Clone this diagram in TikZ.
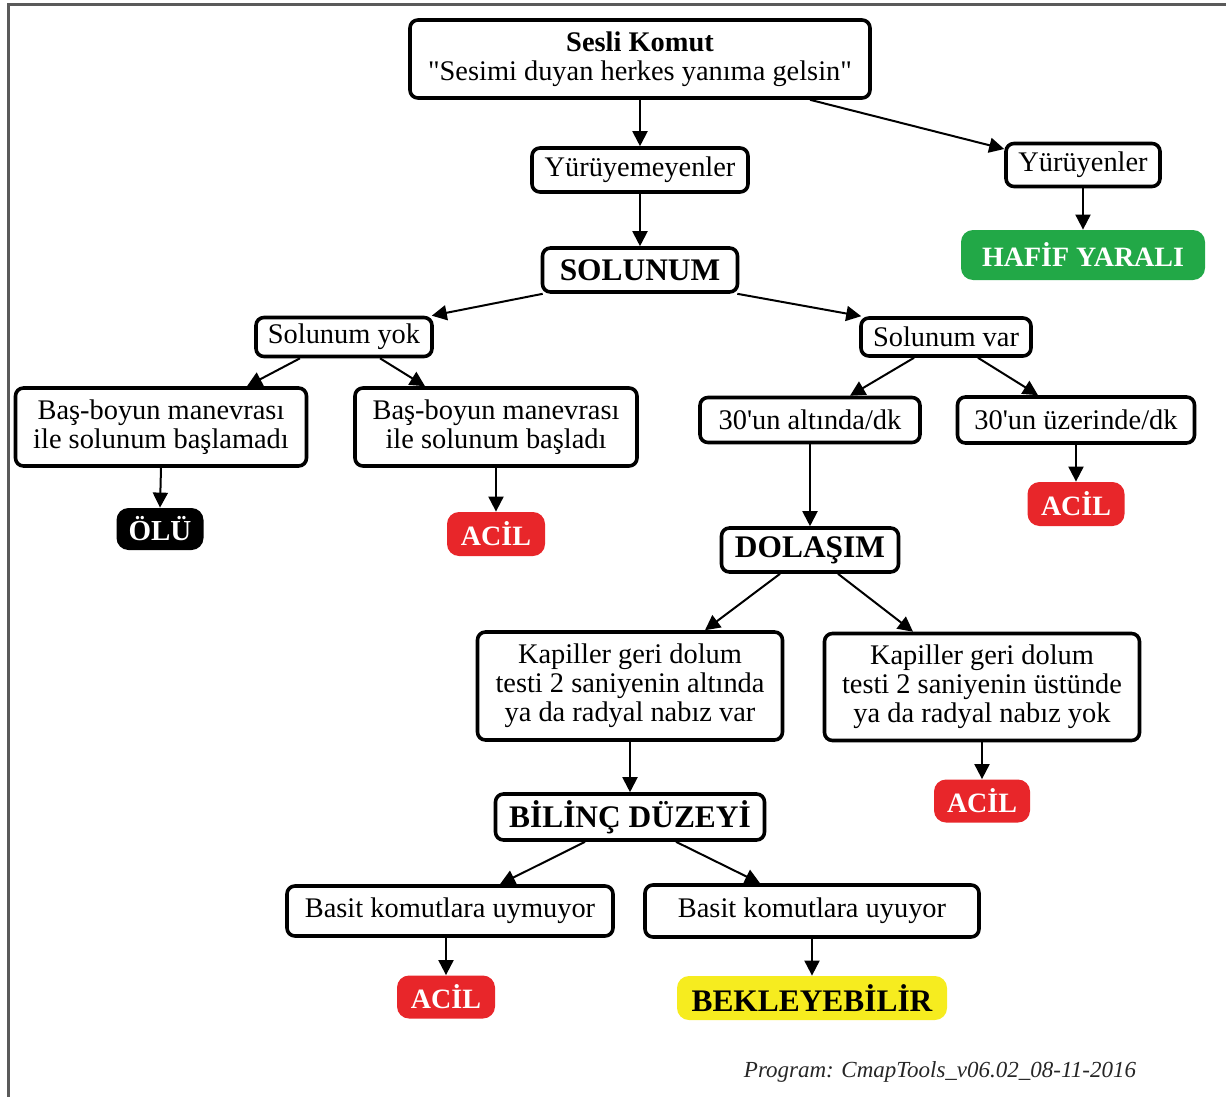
\documentclass[tikz,border=0pt]{standalone}
\usepackage{fontspec}
\setmainfont{Liberation Serif}
\usetikzlibrary{arrows.meta,calc}
\definecolor{acilred}{HTML}{E8262A}
\definecolor{hafgreen}{HTML}{22A847}
\definecolor{bekyellow}{HTML}{F6EC1F}
\definecolor{framegray}{HTML}{5A5A5A}
\begin{document}
\begin{tikzpicture}[x=0.5pt,y=-0.5pt,
  box/.style={draw, line width=1.8pt, rounded corners=4pt, fill=white, inner sep=0pt, align=center,
    font=\fontsize{14.2}{14.5}\selectfont},
  hbox/.style={box, font=\fontsize{15.7}{16}\selectfont\bfseries},
  tag/.style={rounded corners=6pt, inner sep=0pt, text=white, font=\fontsize{14}{14}\selectfont\bfseries},
  arr/.style={line width=1pt, -{Triangle[width=7.5pt,length=7.5pt]}},
  framel/.style={draw=framegray, line width=1.5pt}]
\useasboundingbox (0,0) rectangle (1226,1097);
\draw[framel] (8,1097) -- (8,5) -- (1226,5);

% nodes
\node[box, minimum width=230pt, minimum height=39pt] (top) at (640,59)
  {\textbf{Sesli Komut}\\\textquotedbl Sesimi duyan herkes yanıma gelsin\textquotedbl};
\node[box, minimum width=108pt, minimum height=22pt] (yy) at (640,170) {Yürüyemeyenler};
\node[box, minimum width=77pt, minimum height=21.5pt] (yr) at (1083,165) {Yürüyenler};
\node[tag, fill=hafgreen, minimum width=122pt, minimum height=25pt] (haf) at (1083,255) {HAFİF YARALI};
\node[hbox, minimum width=97.5pt, minimum height=22pt] (sol) at (640,270) {SOLUNUM};
\node[box, minimum width=88pt, minimum height=19.5pt] (yok) at (344,337) {Solunum yok};
\node[box, minimum width=85pt, minimum height=19pt] (var) at (946,337) {Solunum var};
\node[box, minimum width=145.5pt, minimum height=39pt] (basl) at (161,427) {Baş-boyun manevrası\\ile solunum başlamadı};
\node[box, minimum width=141pt, minimum height=39pt] (basr) at (496,427) {Baş-boyun manevrası\\ile solunum başladı};
\node[tag, fill=black, minimum width=43.5pt, minimum height=21pt, font=\fontsize{14.5}{14.5}\selectfont\bfseries] (olu) at (160,529) {ÖLÜ};
\node[tag, fill=acilred, minimum width=49pt, minimum height=22pt] (acil1) at (496,534) {ACİL};
\node[box, minimum width=110pt, minimum height=22.5pt] (alt) at (810,420) {30\textquotesingle un altında/dk};
\node[box, minimum width=118.5pt, minimum height=23pt] (ust) at (1076,420) {30\textquotesingle un üzerinde/dk};
\node[tag, fill=acilred, minimum width=48.5pt, minimum height=22pt] (acil2) at (1076,504) {ACİL};
\node[hbox, minimum width=88.5pt, minimum height=22pt] (dol) at (810,550) {DOLAŞIM};
\node[box, minimum width=152.5pt, minimum height=54pt] (kapl) at (630,686)
  {Kapiller geri dolum\\testi 2 saniyenin altında\\ya da radyal nabız var};
\node[box, minimum width=157.5pt, minimum height=53.5pt] (kapr) at (982,687)
  {Kapiller geri dolum\\testi 2 saniyenin üstünde\\ya da radyal nabız yok};
\node[tag, fill=acilred, minimum width=48pt, minimum height=21.5pt] (acil3) at (982,801) {ACİL};
\node[hbox, minimum width=134.5pt, minimum height=23pt] (bil) at (630,817) {BİLİNÇ DÜZEYİ};
\node[box, minimum width=163pt, minimum height=25pt] (uym) at (450,911) {Basit komutlara uymuyor};
\node[box, minimum width=167pt, minimum height=26pt] (uyu) at (812,911) {Basit komutlara uyuyor};
\node[tag, fill=acilred, minimum width=49pt, minimum height=21.5pt] (acil4) at (446,997) {ACİL};
\node[tag, fill=bekyellow, text=black, minimum width=135pt, minimum height=22pt, font=\fontsize{15.7}{15.7}\selectfont\bfseries] (bek) at (812,998) {BEKLEYEBİLİR};
\node[font=\fontsize{11.5}{12}\selectfont\itshape, text=black!85] (prog) at (940,1072) {Program: CmapTools\_v06.02\_08-11-2016};

% connectors
\draw[arr] (top.south) -- (yy.north);
\draw[arr] ($(top.south)+(170,0)$) -- ($(yr.west)+(0,-16)$);
\draw[arr] (yy.south) -- (sol.north);
\draw[arr] (yr.south) -- (haf.north);
\draw[arr] ($(sol.south west)+(2,0)$) -- ($(yok.north east)+(-2,0)$);
\draw[arr] ($(sol.south east)+(-2,0)$) -- ($(var.north west)+(2,0)$);
\draw[arr] ($(yok.south)+(-44,0)$) -- ($(basl.north)+(86,0)$);
\draw[arr] ($(yok.south)+(36,0)$) -- ($(basr.north)+(-71,0)$);
\draw[arr] ($(var.south)+(-32,0)$) -- ($(alt.north)+(40,0)$);
\draw[arr] ($(var.south)+(32,0)$) -- ($(ust.north)+(-38,0)$);
\draw[arr] (basl.south) -- (olu.north);
\draw[arr] (basr.south) -- (acil1.north);
\draw[arr] (alt.south) -- (dol.north);
\draw[arr] (ust.south) -- (acil2.north);
\draw[arr] ($(dol.south)+(-30,0)$) -- ($(kapl.north)+(75,0)$);
\draw[arr] ($(dol.south)+(28,0)$) -- ($(kapr.north)+(-69,0)$);
\draw[arr] (kapl.south) -- (bil.north);
\draw[arr] (kapr.south) -- (acil3.north);
\draw[arr] ($(bil.south)+(-45,0)$) -- ($(uym.north)+(50,0)$);
\draw[arr] ($(bil.south)+(46,0)$) -- ($(uyu.north)+(-52,0)$);
\draw[arr] ($(uym.south)+(-4,0)$) -- (acil4.north);
\draw[arr] (uyu.south) -- (bek.north);
\end{tikzpicture}
\end{document}
